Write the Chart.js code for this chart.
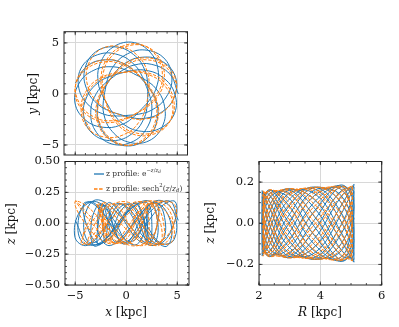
<!DOCTYPE html>
<html>
<head>
<meta charset="utf-8">
<script src="https://cdn.jsdelivr.net/npm/chart.js@4.4.0/dist/chart.umd.min.js"></script>
<style>
  html, body { margin: 0; padding: 0; background: #fff; }
  #wrap { position: relative; width: 399px; height: 327px; }
  canvas { position: absolute; left: 0; top: 0; }
</style>
</head>
<body>
<div id="wrap">
  <canvas id="xy" width="399" height="327"></canvas>
  <canvas id="xz" width="399" height="327"></canvas>
  <canvas id="rz" width="399" height="327"></canvas>
</div>
<script>
// orbit samples: cylindrical radius [kpc], azimuth [deg], height [kpc]
const expR = [
  5.1, 4.68, 3.8, 2.93, 2.33, 2.1, 2.33, 2.93, 3.8, 4.68,
  5.1, 4.68, 3.8, 2.93, 2.33, 2.1, 2.33, 2.93, 3.8, 4.68,
  5.1, 4.68, 3.8, 2.93, 2.33, 2.1, 2.33, 2.93, 3.8, 4.68,
  5.1, 4.68, 3.8, 2.93, 2.33, 2.1, 2.33, 2.93, 3.8, 4.68,
  5.1, 4.68, 3.8, 2.93, 2.33, 2.1, 2.33, 2.93, 3.8, 4.68,
  5.1, 4.68, 3.8, 2.93, 2.33, 2.1, 2.33, 2.93, 3.8, 4.68,
  5.1, 4.68, 3.8, 2.93, 2.33, 2.1, 2.33, 2.93, 3.8, 4.68,
  5.1, 4.68, 3.8, 2.93, 2.33, 2.1, 2.33, 2.93, 3.8, 4.68,
  5.1, 4.68, 3.8, 2.93, 2.33, 2.1, 2.33, 2.93, 3.8, 4.68,
  5.1, 4.68, 3.8, 2.93, 2.33, 2.1, 2.33, 2.93, 3.8, 4.68,
  5.1, 4.68, 3.8, 2.93, 2.33, 2.1, 2.33, 2.93, 3.8, 4.68,
  5.1, 4.68, 3.8, 2.93, 2.33, 2.1, 2.33, 2.93, 3.8, 4.68,
  5.1
];
const expPhi = [
  0, 25, 50, 75, 100, 127, 154, 179, 204, 229,
  254, 279, 304, 329, 354, 381, 408, 433, 458, 483,
  508, 533, 558, 583, 608, 635, 662, 687, 712, 737,
  762, 787, 812, 837, 862, 889, 916, 941, 966, 991,
  1016, 1041, 1066, 1091, 1116, 1143, 1170, 1195, 1220, 1245,
  1270, 1295, 1320, 1345, 1370, 1397, 1424, 1449, 1474, 1499,
  1524, 1549, 1574, 1599, 1624, 1651, 1678, 1703, 1728, 1753,
  1778, 1803, 1828, 1853, 1878, 1905, 1932, 1957, 1982, 2007,
  2032, 2057, 2082, 2107, 2132, 2159, 2186, 2211, 2236, 2261,
  2286, 2311, 2336, 2361, 2386, 2413, 2440, 2465, 2490, 2515,
  2540, 2565, 2590, 2615, 2640, 2667, 2694, 2719, 2744, 2769,
  2794, 2819, 2844, 2869, 2894, 2921, 2948, 2973, 2998, 3023,
  3048
];
const expZ = [
  0.023, 0.180, 0.102, -0.094, -0.158, -0.022, 0.142, 0.129, -0.058, -0.186,
  -0.074, 0.134, 0.160, -0.012, -0.155, -0.099, 0.083, 0.165, 0.034, -0.158,
  -0.152, 0.051, 0.176, 0.074, -0.110, -0.148, 0.003, 0.158, 0.116, -0.087,
  -0.189, -0.045, 0.145, 0.139, -0.036, -0.158, -0.079, 0.108, 0.167, 0.007,
  -0.175, -0.129, 0.075, 0.168, 0.047, -0.126, -0.139, 0.029, 0.174, 0.099,
  -0.114, -0.179, -0.015, 0.151, 0.118, -0.060, -0.162, -0.057, 0.134, 0.164,
  -0.023, -0.180, -0.102, 0.094, 0.158, 0.022, -0.142, -0.129, 0.058, 0.186,
  0.074, -0.134, -0.160, 0.012, 0.155, 0.099, -0.083, -0.165, -0.034, 0.158,
  0.152, -0.051, -0.176, -0.074, 0.110, 0.148, -0.003, -0.158, -0.116, 0.087,
  0.189, 0.045, -0.145, -0.139, 0.036, 0.158, 0.079, -0.108, -0.167, -0.007,
  0.175, 0.129, -0.075, -0.168, -0.047, 0.126, 0.139, -0.029, -0.174, -0.099,
  0.114, 0.179, 0.015, -0.151, -0.118, 0.060, 0.162, 0.057, -0.134, -0.164,
  0.023
];

const sechR = [
  5.05, 4.63, 3.77, 2.92, 2.35, 2.13, 2.35, 2.92, 3.77, 4.63,
  5.05, 4.63, 3.77, 2.92, 2.35, 2.13, 2.35, 2.92, 3.77, 4.63,
  5.05, 4.63, 3.77, 2.92, 2.35, 2.13, 2.35, 2.92, 3.77, 4.63,
  5.05, 4.63, 3.77, 2.92, 2.35, 2.13, 2.35, 2.92, 3.77, 4.63,
  5.05, 4.63, 3.77, 2.92, 2.35, 2.13, 2.35, 2.92, 3.77, 4.63,
  5.05, 4.63, 3.77, 2.92, 2.35, 2.13, 2.35, 2.92, 3.77, 4.63,
  5.05, 4.63, 3.77, 2.92, 2.35, 2.13, 2.35, 2.92, 3.77, 4.63,
  5.05, 4.63, 3.77, 2.92, 2.35, 2.13, 2.35, 2.92, 3.77, 4.63,
  5.05, 4.63, 3.77, 2.92, 2.35, 2.13, 2.35, 2.92, 3.77, 4.63,
  5.05, 4.63, 3.77, 2.92, 2.35, 2.13, 2.35, 2.92, 3.77, 4.63,
  5.05, 4.63, 3.77, 2.92, 2.35, 2.13, 2.35, 2.92, 3.77, 4.63,
  5.05, 4.63, 3.77, 2.92, 2.35, 2.13, 2.35, 2.92, 3.77, 4.63,
  5.05
];
const sechPhi = [
  12, 37, 63, 88, 114, 141, 168, 194, 219, 245,
  270, 295, 321, 346, 372, 399, 426, 452, 477, 503,
  528, 553, 579, 604, 630, 657, 684, 710, 735, 761,
  786, 811, 837, 862, 888, 915, 942, 968, 993, 1019,
  1044, 1069, 1095, 1120, 1146, 1173, 1200, 1226, 1251, 1277,
  1302, 1327, 1353, 1378, 1404, 1431, 1458, 1484, 1509, 1535,
  1560, 1585, 1611, 1636, 1662, 1689, 1716, 1742, 1767, 1793,
  1818, 1843, 1869, 1894, 1920, 1947, 1974, 2000, 2025, 2051,
  2076, 2101, 2127, 2152, 2178, 2205, 2232, 2258, 2283, 2309,
  2334, 2359, 2385, 2410, 2436, 2463, 2490, 2516, 2541, 2567,
  2592, 2617, 2643, 2668, 2694, 2721, 2748, 2774, 2799, 2825,
  2850, 2875, 2901, 2926, 2952, 2979, 3006, 3032, 3057, 3083,
  3108
];
const sechZ = [
  0.063, 0.177, 0.126, -0.032, -0.151, -0.132, 0.006, 0.144, 0.157, 0.022,
  -0.142, -0.174, -0.048, 0.110, 0.161, 0.068, -0.086, -0.168, -0.098, 0.071,
  0.182, 0.124, -0.042, -0.159, -0.128, 0.014, 0.144, 0.147, 0.012, -0.145,
  -0.174, -0.041, 0.122, 0.165, 0.061, -0.092, -0.163, -0.087, 0.077, 0.181,
  0.119, -0.053, -0.168, -0.127, 0.023, 0.146, 0.138, 0.003, -0.145, -0.168,
  -0.032, 0.133, 0.170, 0.055, -0.100, -0.160, -0.076, 0.081, 0.175, 0.110,
  -0.063, -0.177, -0.126, 0.032, 0.151, 0.132, -0.006, -0.144, -0.157, -0.022,
  0.142, 0.174, 0.048, -0.110, -0.161, -0.068, 0.086, 0.168, 0.098, -0.071,
  -0.182, -0.124, 0.042, 0.159, 0.128, -0.014, -0.144, -0.147, -0.012, 0.145,
  0.174, 0.041, -0.122, -0.165, -0.061, 0.092, 0.163, 0.087, -0.077, -0.181,
  -0.119, 0.053, 0.168, 0.127, -0.023, -0.146, -0.138, -0.003, 0.145, 0.168,
  0.032, -0.133, -0.170, -0.055, 0.100, 0.160, 0.076, -0.081, -0.175, -0.110,
  0.063
];

// tick labels
const xyTicks = [-5, 0, 5];
const zTicksWide = [-0.5, -0.25, 0, 0.25, 0.5];
const rTicks = [2, 4, 6];
const zTicksNarrow = [-0.2, 0, 0.2];

const BLUE = '#1f77b4';
const ORANGE = '#ff7f0e';
const SERIF = '"DejaVu Serif", serif';

const deg = Math.PI / 180;
function orbit(R, phi, z) {
  return R.map((r, i) => ({
    x: r * Math.cos(phi[i] * deg),
    y: r * Math.sin(phi[i] * deg),
    z: z[i],
    R: r
  }));
}
const expOrbit = orbit(expR, expPhi, expZ);
const sechOrbit = orbit(sechR, sechPhi, sechZ);

function fmt(v, dec) {
  const s = Math.abs(v).toFixed(dec);
  return (v < 0 ? '\u2212' : '') + s;
}

function line(points, color, dashed) {
  return {
    data: points,
    showLine: true,
    borderColor: color,
    borderWidth: 1,
    borderDash: dashed ? [3.5, 1.6] : [],
    pointRadius: 0,
    tension: 0.4,
    order: dashed ? 0 : 1
  };
}

function drawTitle(ctx, v, cx, cy, rotate) {
  ctx.save();
  ctx.translate(cx, cy);
  if (rotate) ctx.rotate(-Math.PI / 2);
  const fi = 'italic 12px ' + SERIF, fr = '12px ' + SERIF;
  ctx.font = fi;
  const w1 = ctx.measureText(v).width;
  ctx.font = fr;
  const w2 = ctx.measureText(' [kpc]').width;
  const x0 = -(w1 + w2) / 2;
  ctx.fillStyle = '#111';
  ctx.textBaseline = 'middle';
  ctx.textAlign = 'left';
  ctx.font = fi;
  ctx.fillText(v, x0, 0);
  ctx.font = fr;
  ctx.fillText(' [kpc]', x0 + w1, 0);
  ctx.restore();
}

// rich text pieces: [text, italic, shift(-1 sub, 0, 1 sup, 2 sup-sub)]
function drawRich(ctx, parts, x, y) {
  parts.forEach(([t, it, sh]) => {
    const size = sh === 0 ? 7.5 : (sh === 2 ? 4.2 : 5.3);
    const dy = sh === 1 ? -3.2 : (sh === 2 ? -2.2 : (sh === -1 ? 1.6 : 0));
    ctx.font = (it ? 'italic ' : '') + size + 'px ' + SERIF;
    ctx.fillText(t, x, y + dy);
    x += ctx.measureText(t).width;
  });
}

const framePlugin = {
  id: 'frame',
  afterDraw(chart, args, o) {
    const ctx = chart.ctx, a = chart.chartArea;
    const sx = chart.scales.x, sy = chart.scales.y;
    ctx.save();
    const marks = (scale, step, major) => {
      const out = [];
      const start = Math.ceil(scale.min / step - 1e-6);
      for (let k = start; k * step <= scale.max + 1e-6; k++) out.push([scale.getPixelForValue(k * step), 2]);
      major.forEach(v => out.push([scale.getPixelForValue(v), 3.5]));
      return out;
    };
    ctx.strokeStyle = '#262626';
    ctx.lineWidth = 0.8;
    ctx.beginPath();
    marks(sx, o.minorX, o.majorX).forEach(([p, l]) => {
      ctx.moveTo(p, a.bottom); ctx.lineTo(p, a.bottom - l);
      ctx.moveTo(p, a.top); ctx.lineTo(p, a.top + l);
    });
    marks(sy, o.minorY, o.majorY).forEach(([p, l]) => {
      ctx.moveTo(a.left, p); ctx.lineTo(a.left + l, p);
      ctx.moveTo(a.right, p); ctx.lineTo(a.right - l, p);
    });
    ctx.stroke();
    ctx.lineWidth = 1;
    ctx.strokeRect(a.left, a.top, a.right - a.left, a.bottom - a.top);

    (o.titles || []).forEach(t => drawTitle(ctx, t.v, t.x, t.y, t.rot));

    if (o.legend) {
      ctx.lineWidth = 1.3;
      ctx.strokeStyle = BLUE;
      ctx.beginPath(); ctx.moveTo(94, 174); ctx.lineTo(104, 174); ctx.stroke();
      ctx.strokeStyle = ORANGE;
      ctx.setLineDash([3.5, 1.6]);
      ctx.beginPath(); ctx.moveTo(94, 189); ctx.lineTo(104, 189); ctx.stroke();
      ctx.setLineDash([]);
      ctx.fillStyle = '#333';
      ctx.textBaseline = 'middle';
      ctx.textAlign = 'left';
      drawRich(ctx, [['z profile: e', false, 0], ['\u2212', false, 1], ['z', true, 1], ['/', false, 1], ['z', true, 1], ['d', true, 2]], 106, 174);
      drawRich(ctx, [['z profile: sech', false, 0], ['2', false, 1], ['(', false, 0], ['z', true, 0], ['/', false, 0], ['z', true, 0], ['d', true, -1], [')', false, 0]], 106, 189);
    }
    ctx.restore();
  }
};

// axis boxes get a fixed size so the plot areas land where the reference has them
const Y_AXIS_W = 40, X_AXIS_H = 30;

function axis(dir, min, max, ticks, dec, labels) {
  return {
    type: 'linear',
    min: min,
    max: max,
    afterFit: s => {
      if (dir === 'x') s.height = labels ? X_AXIS_H : 0;
      else s.width = Y_AXIS_W;
    },
    afterBuildTicks: s => { s.ticks = ticks.map(v => ({ value: v })); },
    grid: { color: '#d8d8d8', lineWidth: 1, drawTicks: false },
    border: { display: false },
    ticks: {
      display: labels,
      autoSkip: false,
      maxRotation: 0,
      padding: dir === 'x' ? 4 : 5,
      color: '#111',
      font: { family: SERIF, size: 11.5 },
      callback: v => fmt(v, dec)
    }
  };
}

function panel(id, datasets, area, xs, ys, frame) {
  const xLab = xs.ticks.display;
  return new Chart(document.getElementById(id), {
    type: 'scatter',
    data: { datasets: datasets },
    options: {
      responsive: false,
      animation: false,
      events: [],
      layout: {
        padding: {
          left: area.left - Y_AXIS_W,
          top: area.top,
          right: 399 - area.right,
          bottom: 327 - area.bottom - (xLab ? X_AXIS_H : 0)
        }
      },
      plugins: { legend: { display: false }, tooltip: { enabled: false }, frame: frame },
      scales: { x: xs, y: ys }
    },
    plugins: [framePlugin]
  });
}

// top left: x-y plane
panel('xy',
  [line(expOrbit.map(p => ({ x: p.x, y: p.y })), BLUE, false),
   line(sechOrbit.map(p => ({ x: p.x, y: p.y })), ORANGE, true)],
  { left: 64, top: 31.7, right: 187.5, bottom: 155 },
  axis('x', -6.1, 6.0, xyTicks, 0, false),
  axis('y', -5.98, 6.1, xyTicks, 0, true),
  { minorX: 1, majorX: xyTicks, minorY: 1, majorY: xyTicks,
    titles: [{ v: 'y', x: 34, y: 94, rot: true }] });

// bottom left: x-z plane
panel('xz',
  [line(expOrbit.map(p => ({ x: p.x, y: p.z })), BLUE, false),
   line(sechOrbit.map(p => ({ x: p.x, y: p.z })), ORANGE, true)],
  { left: 65, top: 161.5, right: 189, bottom: 285 },
  axis('x', -6.0, 6.15, xyTicks, 0, true),
  axis('y', -0.5, 0.5, zTicksWide, 2, true),
  { minorX: 1, majorX: xyTicks, minorY: 0.05, majorY: zTicksWide, legend: true,
    titles: [{ v: 'z', x: 12, y: 224, rot: true }, { v: 'x', x: 126, y: 313, rot: false }] });

// bottom right: R-z plane
panel('rz',
  [line(expOrbit.map(p => ({ x: p.R, y: p.z })), BLUE, false),
   line(sechOrbit.map(p => ({ x: p.R, y: p.z })), ORANGE, true)],
  { left: 259, top: 161.5, right: 381.7, bottom: 285 },
  axis('x', 2, 6, rTicks, 0, true),
  axis('y', -0.3, 0.3, zTicksNarrow, 1, true),
  { minorX: 0.5, majorX: rTicks, minorY: 0.05, majorY: zTicksNarrow,
    titles: [{ v: 'z', x: 211, y: 223, rot: true }, { v: 'R', x: 320, y: 313, rot: false }] });
</script>
</body>
</html>
